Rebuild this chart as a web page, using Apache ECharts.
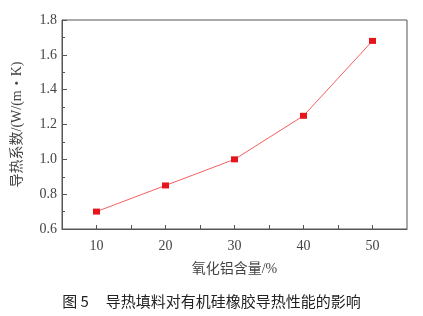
<!DOCTYPE html>
<html><head><meta charset="utf-8">
<script src="https://cdn.jsdelivr.net/npm/echarts@6/dist/echarts.min.js"></script>
<style>html,body{margin:0;padding:0;background:#fff}#c{width:423px;height:316px}</style>
</head><body><div id="c"></div>
<script>
const xValues = [10, 20, 30, 40, 50];
const yValues = [0.70, 0.85, 1.00, 1.25, 1.68];
const xName = '氧化铝含量/%';
const yName = '导热系数/(W/(m・K)';
const caption = '图 5     导热填料对有机硅橡胶导热性能的影响';

const serif = '"Liberation Serif", "Noto Sans CJK SC", serif';
const chart = echarts.init(document.getElementById('c'), null, {renderer: 'canvas'});
const axisLine = {show: true, lineStyle: {color: '#555', width: 1}};
chart.setOption({
  animation: false,
  backgroundColor: '#fff',
  title: {
    text: caption, left: 'center', top: 289,
    textStyle: {fontFamily: '"Noto Sans CJK SC", sans-serif', fontSize: 15, fontWeight: 'normal', color: '#222'}
  },
  grid: {left: 62, top: 20, right: 16, bottom: 87, show: true, borderColor: '#555', borderWidth: 1, backgroundColor: 'transparent'},
  xAxis: {
    type: 'value', min: 5, max: 55, interval: 5,
    name: xName, nameLocation: 'middle', nameGap: 33,
    nameTextStyle: {fontFamily: serif, fontSize: 14, color: '#444'},
    axisLine: axisLine,
    axisTick: {show: true, inside: true, length: 4, lineStyle: {color: '#555'}},
    axisLabel: {fontFamily: serif, fontSize: 14, color: '#444', margin: 10, showMinLabel: false, showMaxLabel: false,
      formatter: v => (v % 10 === 0 ? String(v) : '')},
    splitLine: {show: false}
  },
  yAxis: {
    type: 'value', min: 0.6, max: 1.8, interval: 0.2,
    name: yName, nameLocation: 'middle', nameGap: 38,
    nameTextStyle: {fontFamily: serif, fontSize: 14, color: '#444'},
    axisLine: axisLine,
    axisTick: {show: true, inside: true, length: 5, lineStyle: {color: '#555'}},
    minorTick: {show: true, splitNumber: 2, length: 3, lineStyle: {color: '#555'}},
    axisLabel: {fontFamily: serif, fontSize: 14, color: '#444', margin: 5,
      formatter: v => v.toFixed(1)},
    splitLine: {show: false}
  },
  series: [{
    type: 'line',
    data: xValues.map((x, i) => [x, yValues[i]]),
    symbol: 'rect', symbolSize: [7, 6],
    itemStyle: {color: '#e8141b'},
    lineStyle: {color: '#f46060', width: 1}
  }]
});
</script></body></html>
